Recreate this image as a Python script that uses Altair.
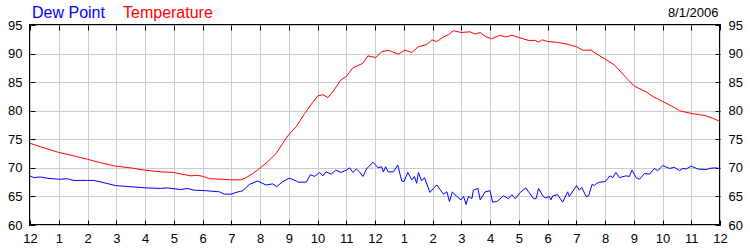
import altair as alt
import pandas as pd

# ---- data ----
temp_hours = [0.00, 0.36, 1.00, 1.52, 2.00, 2.45, 2.98, 3.50, 4.00, 4.54, 4.99, 5.59, 5.82, 6.03,
              6.24, 6.70, 6.99, 7.34, 7.52, 7.75, 7.99, 8.27, 8.56, 8.91, 9.00, 9.26, 9.55, 9.84,
              10.01, 10.19, 10.36, 10.53, 10.82, 11.00, 11.23, 11.58, 11.75, 12.02, 12.23, 12.46,
              12.81, 13.04, 13.28, 13.51, 13.80, 13.98, 14.15, 14.38, 14.55, 14.73, 14.99, 15.31,
              15.48, 15.66, 15.83, 16.06, 16.35, 16.53, 16.76, 17.02, 17.34, 17.57, 17.69, 17.81,
              18.01, 18.29, 18.64, 19.01, 19.22, 19.51, 19.69, 20.01, 20.33, 20.73, 21.02, 21.43,
              21.66, 22.01, 22.36, 22.59, 23.02, 23.29, 23.52, 23.75, 24.00]
temp_values = [74.3, 73.7, 72.7, 72.1, 71.5, 70.9, 70.3, 70.0, 69.6, 69.3, 69.2, 68.6, 68.7, 68.5,
               68.1, 68.0, 67.9, 67.9, 68.3, 69.0, 69.9, 71.1, 72.5, 75.2, 75.8, 77.2, 79.5, 81.5,
               82.6, 82.8, 82.3, 83.3, 85.4, 86.0, 87.5, 88.3, 89.6, 89.3, 90.3, 90.6,
               89.9, 90.6, 90.2, 91.2, 91.6, 92.4, 92.1, 92.9, 93.3, 94.0, 93.7, 93.8,
               93.4, 93.7, 93.0, 92.6, 93.2, 92.9, 93.2, 92.8, 92.3, 92.3, 92.0, 92.4,
               92.1, 92.0, 91.7, 91.2, 90.6, 90.6, 90.0, 89.0, 88.0, 85.8, 84.3, 83.3,
               82.5, 81.6, 80.7, 80.0, 79.5, 79.3, 79.1, 78.7, 78.1]

dew_hours = [0.00, 0.13, 0.36, 0.59, 1.00, 1.29, 1.52, 2.00, 2.22, 2.57, 2.98, 3.50, 4.00, 4.54,
             4.77, 5.24, 5.47, 5.70, 6.12, 6.59, 6.76, 6.99, 7.17, 7.40, 7.63, 7.92, 8.21, 8.44,
             8.58, 8.79, 9.02, 9.26, 9.32, 9.61, 9.75, 9.90, 10.07, 10.19, 10.30, 10.48, 10.63,
             10.82, 11.00, 11.12, 11.23, 11.35, 11.46, 11.58, 11.70, 11.93, 12.02, 12.11, 12.23,
             12.29, 12.37, 12.46, 12.64, 12.79, 12.93, 13.01, 13.14, 13.28, 13.37, 13.45, 13.51,
             13.62, 13.72, 13.91, 14.03, 14.15, 14.38, 14.50, 14.59, 14.69, 14.84, 14.99, 15.08,
             15.17, 15.25, 15.37, 15.42, 15.58, 15.66, 15.83, 16.00, 16.09, 16.24, 16.47, 16.64,
             16.76, 16.88, 17.05, 17.25, 17.34, 17.52, 17.60, 17.69, 17.81, 17.92, 18.06, 18.12,
             18.18, 18.35, 18.53, 18.70, 18.76, 19.01, 19.11, 19.19, 19.34, 19.43, 19.55, 19.63,
             19.69, 19.80, 20.01, 20.17, 20.27, 20.38, 20.50, 20.73, 20.85, 20.94, 21.08, 21.20,
             21.37, 21.55, 21.72, 21.83, 22.01, 22.24, 22.42, 22.59, 22.71, 22.82, 23.00, 23.23,
             23.52, 23.63, 23.81, 24.00]
dew_values = [68.6, 68.3, 68.4, 68.2, 68.0, 68.1, 67.8, 67.8, 67.8, 67.4, 66.9, 66.7, 66.5, 66.4,
              66.5, 66.2, 66.4, 66.1, 66.0, 65.8, 65.4, 65.4, 65.7, 66.0, 67.1, 67.7, 67.0, 67.2,
              66.7, 67.6, 68.2, 67.7, 67.5, 67.5, 68.8, 68.5, 69.2, 68.6, 69.3, 68.9, 69.6,
              69.2, 69.6, 70.0, 69.2, 69.8, 69.3, 68.5, 69.8, 71.0, 70.5, 70.0, 70.2,
              69.3, 70.2, 69.3, 69.3, 70.5, 67.7, 67.6, 69.2, 67.9, 68.5, 67.3, 69.2,
              67.7, 68.3, 65.7, 66.4, 67.0, 65.4, 65.8, 64.1, 65.8, 65.0, 64.4, 65.0,
              63.6, 65.0, 64.6, 66.1, 66.4, 64.4, 65.8, 66.0, 64.0, 64.1, 65.1, 64.6,
              65.3, 64.6, 65.7, 66.5, 65.8, 64.6, 64.6, 66.4, 65.3, 64.7, 65.0, 64.4,
              65.1, 65.3, 64.0, 65.8, 65.0, 66.9, 66.1, 66.6, 65.0, 65.1, 67.1, 66.9,
              67.2, 67.5, 67.6, 68.6, 68.3, 69.2, 68.3, 68.6, 68.5, 69.6, 68.3, 68.0,
              69.0, 68.9, 69.9, 69.5, 70.4, 69.9, 70.1, 69.5, 69.9, 69.8, 70.3, 69.8,
              69.7, 69.9, 70.0, 69.9]

hour_ticks = list(range(25))
hour_labels = ["12", "1", "2", "3", "4", "5", "6", "7", "8", "9", "10", "11",
               "12", "1", "2", "3", "4", "5", "6", "7", "8", "9", "10", "11", "12"]
y_ticks = [60, 65, 70, 75, 80, 85, 90, 95]
series_names = ["Dew Point", "Temperature"]
date_label = ["8/1/2006"]

FONT = "Arial, 'Liberation Sans', sans-serif"
GRID = "#CCCCCC"

temp_df = pd.DataFrame({"hour": temp_hours, "value": temp_values})
dew_df = pd.DataFrame({"hour": dew_hours, "value": dew_values})

label_expr = "[" + ",".join("'%s'" % s for s in hour_labels) + "][datum.value]"

xscale = alt.Scale(domain=[0, 24], nice=False, zero=False)
yscale = alt.Scale(domain=[60, 95], nice=False, zero=False)

common = dict(title=None, domain=False, tickColor="black", tickSize=5, tickWidth=1,
              offset=-5, labelFont=FONT, labelFontSize=13, labelColor="black",
              labelOverlap=False, labelFlush=False, gridColor=GRID, gridWidth=1)

x_bottom = alt.Axis(orient="bottom", values=hour_ticks, labelExpr=label_expr,
                    grid=True, labelPadding=7, **common)
x_top = alt.Axis(orient="top", values=hour_ticks, labels=False, grid=False, **common)
y_left = alt.Axis(orient="left", values=y_ticks, grid=True, labelPadding=8, **common)
y_right = alt.Axis(orient="right", values=y_ticks, grid=False, labelPadding=8, **common)

temp_line = alt.Chart(temp_df).mark_line(color="#FF0000", strokeWidth=1).encode(
    x=alt.X("hour:Q", scale=xscale, axis=x_bottom),
    y=alt.Y("value:Q", scale=yscale, axis=y_left),
)
dew_line = alt.Chart(dew_df).mark_line(color="#0000FF", strokeWidth=1).encode(
    x=alt.X("hour:Q", scale=xscale, axis=x_top),
    y=alt.Y("value:Q", scale=yscale, axis=y_right),
)

def label_text(text, color, size, align, xpos, ypos):
    return alt.Chart(pd.DataFrame({"t": [text]})).mark_text(
        align=align, baseline="alphabetic", color=color, fontSize=size, font=FONT
    ).encode(text="t:N", x=alt.value(xpos), y=alt.value(ypos))

t1 = label_text(series_names[0], "#0000FF", 16, "left", 2, -7)
t2 = label_text(series_names[1], "#FF0000", 16, "left", 93, -7)
t3 = label_text(date_label[0], "black", 13, "right", 688.5, -8)

chart = alt.layer(dew_line, temp_line, t1, t2, t3).resolve_axis(
    x="independent", y="independent"
).properties(
    width=690, height=200,
    autosize=alt.AutoSizeParams(type="none"),
    padding={"left": 30, "top": 25, "right": 30, "bottom": 25},
    background="white",
).configure_view(stroke="black", strokeWidth=2)

chart.save("out.html", embed_options={"renderer": "svg", "actions": False})
